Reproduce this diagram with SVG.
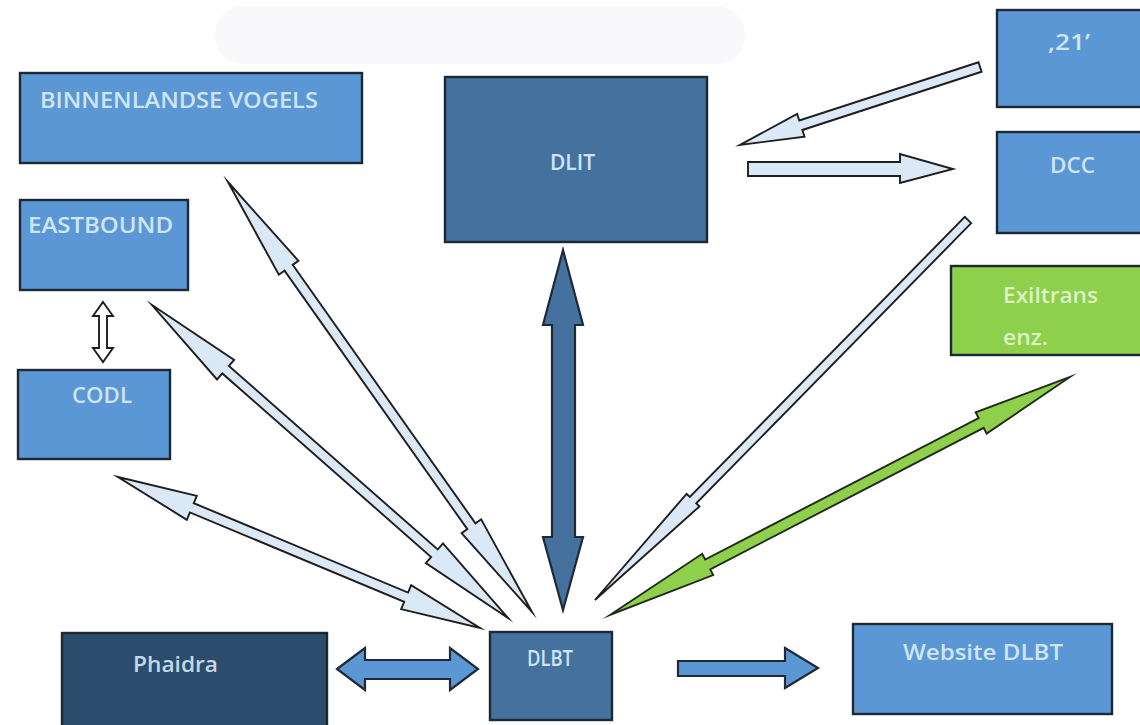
<svg xmlns="http://www.w3.org/2000/svg" width="1140" height="725" viewBox="0 0 1140 725">
<style>
.box{stroke:#1d2835;stroke-width:2.4}
.mid{fill:#5a97d4}
.dark{fill:#44719e}
.navy{fill:#2c4c6d}
.green{fill:#8ecf4b}
.t{font-family:"Open Sans","Liberation Sans",sans-serif;font-size:21px;font-weight:600;fill:#cfe5f6}
.tg{fill:#dcf1c4}
.tn{fill:#c6d7e6}
.la{fill:#dbe8f5;stroke:#1e1e1e;stroke-width:1.9;stroke-linejoin:miter;stroke-miterlimit:10}
.ba{fill:#5a97d4;stroke:#1e2a36;stroke-width:2.2}
.da{fill:#44719e;stroke:#1e2a36;stroke-width:2.2}
.ga{fill:#8ecf4b;stroke:#1e2a1a;stroke-width:1.9;stroke-miterlimit:10}
.wa{fill:#ffffff;stroke:#1e1e1e;stroke-width:1.9}
</style>
<rect x="0" y="0" width="1140" height="725" fill="#ffffff"/>
<rect x="215" y="6" width="530" height="58" rx="28" fill="#f9f9fb"/>

<g id="connectors">
  <!-- BINNENLANDSE VOGELS <-> DLBT -->
  <polygon class="la" transform="translate(228,182) rotate(54.74)" points="0,0 105,-12 105,-5 421.6,-5 421.6,-12 526.6,0 421.6,12 421.6,5 105,5 105,12"/>
  <!-- EASTBOUND <-> DLBT -->
  <polygon class="la" transform="translate(152,305) rotate(41.32)" points="0,0 98,-13 98,-5 376,-5 376,-13 474,0 376,13 376,5 98,5 98,13"/>
  <!-- CODL <-> DLBT -->
  <polygon class="la" transform="translate(118,477) rotate(22.64)" points="0,0 80,-13 80,-5 312.2,-5 312.2,-13 392.2,0 312.2,13 312.2,5 80,5 80,13"/>
  <!-- EASTBOUND <-> CODL -->
  <polygon class="wa" points="103,302 113,316 107,316 107,348 113,348 103,362 93,348 99,348 99,316 93,316"/>
  <!-- ,21' -> DLIT -->
  <polygon class="la" transform="translate(980,67) rotate(162)" points="0,-5 188.4,-5 188.4,-12 252.4,0 188.4,12 188.4,5 0,5"/>
  <!-- DLIT -> DCC -->
  <polygon class="la" points="748,162 900,162 900,154 953,169 900,183 900,176 748,176"/>
  <!-- DCC -> DLBT -->
  <polygon class="la" transform="translate(968,220) rotate(134.47)" points="0,-4.5 392.5,-4.5 392.5,-9 532.5,0 392.5,9 392.5,4.5 0,4.5"/>
  <!-- DLIT <-> DLBT -->
  <polygon class="da" points="563,250 583,325 575,325 575,537 583,537 563,610 543,537 552,537 552,325 543,325"/>
  <!-- DLBT <-> Exiltrans -->
  <polygon class="ga" transform="translate(610,615) rotate(-27.36)" points="0,0 110,-12 110,-5.5 417.9,-5.5 417.9,-12 517.9,0 417.9,12 417.9,5.5 110,5.5 110,12"/>
  <!-- Phaidra <-> DLBT -->
  <polygon class="ba" points="337,669 365,648 365,660 450,660 450,648 478,669 450,690 450,679 365,679 365,690"/>
  <!-- DLBT -> Website DLBT -->
  <polygon class="ba" points="678,661 785,661 785,648 818,668 785,688 785,676 678,676"/>
</g>

<g id="node-binnenlandse-vogels">
  <rect class="box mid" x="20" y="73" width="342" height="90"/>
  <text class="t" x="40" y="108" textLength="278" lengthAdjust="spacingAndGlyphs">BINNENLANDSE VOGELS</text>
</g>
<g id="node-eastbound">
  <rect class="box mid" x="20" y="200" width="168" height="90"/>
  <text class="t" x="28" y="233" textLength="145" lengthAdjust="spacingAndGlyphs">EASTBOUND</text>
</g>
<g id="node-codl">
  <rect class="box mid" x="18" y="370" width="152" height="89"/>
  <text class="t" x="72" y="403" textLength="60" lengthAdjust="spacingAndGlyphs">CODL</text>
</g>
<g id="node-dlit">
  <rect class="box dark" x="445" y="77" width="262" height="165"/>
  <text class="t" x="550" y="170" textLength="45" lengthAdjust="spacingAndGlyphs">DLIT</text>
</g>
<g id="node-21">
  <rect class="box mid" x="997" y="10" width="150" height="97"/>
  <text class="t" x="1048" y="50" textLength="42" lengthAdjust="spacingAndGlyphs">‚21’</text>
</g>
<g id="node-dcc">
  <rect class="box mid" x="997" y="132" width="150" height="101"/>
  <text class="t" x="1050" y="173" textLength="45" lengthAdjust="spacingAndGlyphs">DCC</text>
</g>
<g id="node-exiltrans">
  <rect class="box green" x="951" y="266" width="196" height="89"/>
  <text class="t tg" x="1003" y="303" textLength="95" lengthAdjust="spacingAndGlyphs">Exiltrans</text>
  <text class="t tg" x="1003" y="345" textLength="45" lengthAdjust="spacingAndGlyphs">enz.</text>
</g>
<g id="node-phaidra">
  <rect class="box navy" x="62" y="633" width="265" height="100"/>
  <text class="t tn" x="133" y="672" textLength="85" lengthAdjust="spacingAndGlyphs">Phaidra</text>
</g>
<g id="node-dlbt">
  <rect class="box dark" x="490" y="632" width="122" height="88"/>
  <text class="t" x="527" y="666" textLength="46" lengthAdjust="spacingAndGlyphs">DLBT</text>
</g>
<g id="node-website-dlbt">
  <rect class="box mid" x="853" y="624" width="259" height="90"/>
  <text class="t" x="903" y="660" textLength="160" lengthAdjust="spacingAndGlyphs">Website DLBT</text>
</g>
</svg>
